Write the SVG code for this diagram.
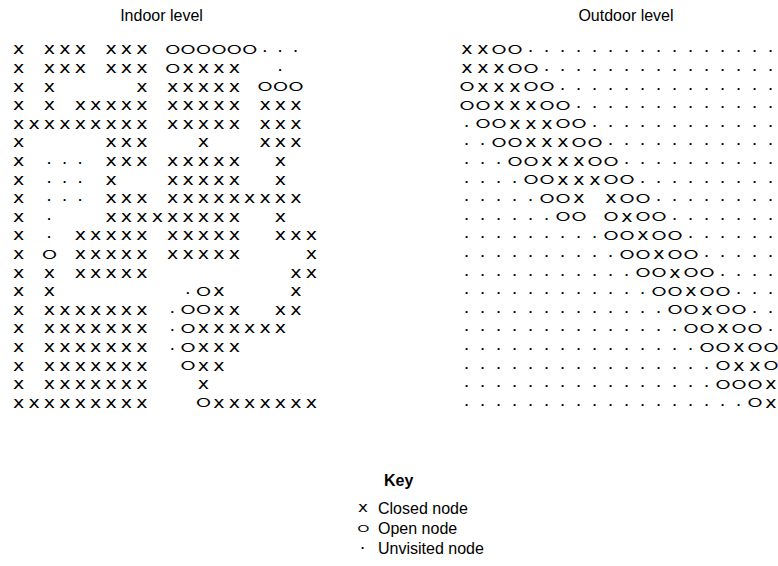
<svg xmlns="http://www.w3.org/2000/svg" width="778" height="566" viewBox="0 0 778 566">
<style>
text{font-family:"Liberation Sans",Arial,sans-serif;fill:#000}
.t{font-size:16px}
.k{font-size:16px;font-weight:bold}
.x{font-family:"DejaVu Sans",sans-serif;font-size:15.9px;text-anchor:middle}
.d{font-size:13px;font-weight:bold;text-anchor:middle}
.o{font-family:Inter,"Liberation Sans",sans-serif;font-weight:300;font-size:15px;text-anchor:middle}
</style>
<rect width="778" height="566" fill="#fff"/>
<text class="t" x="161.5" y="20.5" text-anchor="middle">Indoor level</text>
<text class="t" x="626" y="20.5" text-anchor="middle">Outdoor level</text>
<g id="indoor">
<text class="x" transform="scale(1.2 1)" y="54.35" x="15.58 41.25 54.08 66.92 92.58 105.42 118.25">xxxxxxx</text>
<text class="o" y="54.1" transform="scale(1.8 1)" x="95.94 104.5 113.06 121.61 130.17 138.72">oooooo</text>
<text class="d" y="55.3" x="265.1 280.5 295.9">···</text>
<text class="x" transform="scale(1.2 1)" y="72.95" x="15.58 41.25 54.08 66.92 92.58 105.42 118.25">xxxxxxx</text>
<text class="o" y="72.7" transform="scale(1.8 1)" x="95.94">o</text>
<text class="x" transform="scale(1.2 1)" y="72.95" x="156.75 169.58 182.42 195.25">xxxx</text>
<text class="d" y="73.9" x="280.5">·</text>
<text class="x" transform="scale(1.2 1)" y="91.55" x="15.58 41.25 118.25 143.92 156.75 169.58 182.42 195.25">xxxxxxxx</text>
<text class="o" y="91.3" transform="scale(1.8 1)" x="147.28 155.83 164.39">ooo</text>
<text class="x" transform="scale(1.2 1)" y="110.15" x="15.58 41.25 66.92 79.75 92.58 105.42 118.25 143.92 156.75 169.58 182.42 195.25 220.92 233.75 246.58">xxxxxxxxxxxxxxx</text>
<text class="x" transform="scale(1.2 1)" y="128.75" x="15.58 28.42 41.25 54.08 66.92 79.75 92.58 105.42 118.25 143.92 156.75 169.58 182.42 195.25 220.92 233.75 246.58">xxxxxxxxxxxxxxxxx</text>
<text class="x" transform="scale(1.2 1)" y="147.35" x="15.58 92.58 105.42 118.25 169.58 220.92 233.75 246.58">xxxxxxxx</text>
<text class="x" transform="scale(1.2 1)" y="165.95" x="15.58">x</text>
<text class="d" y="166.9" x="49.5 64.9 80.3">···</text>
<text class="x" transform="scale(1.2 1)" y="165.95" x="92.58 105.42 118.25 143.92 156.75 169.58 182.42 195.25 233.75">xxxxxxxxx</text>
<text class="x" transform="scale(1.2 1)" y="184.55" x="15.58">x</text>
<text class="d" y="185.5" x="49.5 64.9 80.3">···</text>
<text class="x" transform="scale(1.2 1)" y="184.55" x="92.58 143.92 156.75 169.58 182.42 195.25 233.75">xxxxxxx</text>
<text class="x" transform="scale(1.2 1)" y="203.15" x="15.58">x</text>
<text class="d" y="204.1" x="49.5 64.9 80.3">···</text>
<text class="x" transform="scale(1.2 1)" y="203.15" x="92.58 105.42 118.25 143.92 156.75 169.58 182.42 195.25 208.08 220.92 233.75 246.58">xxxxxxxxxxxx</text>
<text class="x" transform="scale(1.2 1)" y="221.75" x="15.58">x</text>
<text class="d" y="222.7" x="49.5">·</text>
<text class="x" transform="scale(1.2 1)" y="221.75" x="92.58 105.42 118.25 131.08 143.92 156.75 169.58 182.42 195.25 233.75">xxxxxxxxxx</text>
<text class="x" transform="scale(1.2 1)" y="240.35" x="15.58">x</text>
<text class="d" y="241.3" x="49.5">·</text>
<text class="x" transform="scale(1.2 1)" y="240.35" x="66.92 79.75 92.58 105.42 118.25 143.92 156.75 169.58 182.42 195.25 233.75 246.58 259.42">xxxxxxxxxxxxx</text>
<text class="x" transform="scale(1.2 1)" y="258.95" x="15.58">x</text>
<text class="o" y="258.7" transform="scale(1.8 1)" x="27.5">o</text>
<text class="x" transform="scale(1.2 1)" y="258.95" x="66.92 79.75 92.58 105.42 118.25 143.92 156.75 169.58 182.42 195.25 259.42">xxxxxxxxxxx</text>
<text class="x" transform="scale(1.2 1)" y="277.55" x="15.58 41.25 66.92 79.75 92.58 105.42 118.25 246.58 259.42">xxxxxxxxx</text>
<text class="x" transform="scale(1.2 1)" y="296.15" x="15.58 41.25">xx</text>
<text class="d" y="297.1" x="188.1">·</text>
<text class="o" y="295.9" transform="scale(1.8 1)" x="113.06">o</text>
<text class="x" transform="scale(1.2 1)" y="296.15" x="182.42 246.58">xx</text>
<text class="x" transform="scale(1.2 1)" y="314.75" x="15.58 41.25 54.08 66.92 79.75 92.58 105.42 118.25">xxxxxxxx</text>
<text class="d" y="315.7" x="172.7">·</text>
<text class="o" y="314.5" transform="scale(1.8 1)" x="104.5 113.06">oo</text>
<text class="x" transform="scale(1.2 1)" y="314.75" x="182.42 195.25 233.75 246.58">xxxx</text>
<text class="x" transform="scale(1.2 1)" y="333.35" x="15.58 41.25 54.08 66.92 79.75 92.58 105.42 118.25">xxxxxxxx</text>
<text class="d" y="334.3" x="172.7">·</text>
<text class="o" y="333.1" transform="scale(1.8 1)" x="104.5">o</text>
<text class="x" transform="scale(1.2 1)" y="333.35" x="169.58 182.42 195.25 208.08 220.92 233.75">xxxxxx</text>
<text class="x" transform="scale(1.2 1)" y="351.95" x="15.58 41.25 54.08 66.92 79.75 92.58 105.42 118.25">xxxxxxxx</text>
<text class="d" y="352.9" x="172.7">·</text>
<text class="o" y="351.7" transform="scale(1.8 1)" x="104.5">o</text>
<text class="x" transform="scale(1.2 1)" y="351.95" x="169.58 182.42 195.25">xxx</text>
<text class="x" transform="scale(1.2 1)" y="370.55" x="15.58 41.25 54.08 66.92 79.75 92.58 105.42 118.25">xxxxxxxx</text>
<text class="o" y="370.3" transform="scale(1.8 1)" x="104.5">o</text>
<text class="x" transform="scale(1.2 1)" y="370.55" x="169.58 182.42">xx</text>
<text class="x" transform="scale(1.2 1)" y="389.15" x="15.58 41.25 54.08 66.92 79.75 92.58 105.42 118.25 169.58">xxxxxxxxx</text>
<text class="x" transform="scale(1.2 1)" y="407.75" x="15.58 28.42 41.25 54.08 66.92 79.75 92.58 105.42 118.25">xxxxxxxxx</text>
<text class="o" y="407.5" transform="scale(1.8 1)" x="113.06">o</text>
<text class="x" transform="scale(1.2 1)" y="407.75" x="182.42 195.25 208.08 220.92 233.75 246.58 259.42">xxxxxxx</text>
</g>
<g id="outdoor">
<text class="x" transform="scale(1.2 1)" y="54.35" x="389.17 402.5">xx</text>
<text class="o" y="54.1" transform="scale(1.8 1)" x="277.22 286.11">oo</text>
<text class="d" y="55.3" x="531 547 563 579 595 611 627 643 659 675 691 707 723 739 755 771">················</text>
<text class="x" transform="scale(1.2 1)" y="72.95" x="389.17 402.5 415.83">xxx</text>
<text class="o" y="72.7" transform="scale(1.8 1)" x="286.11 295">oo</text>
<text class="d" y="73.9" x="547 563 579 595 611 627 643 659 675 691 707 723 739 755 771">···············</text>
<text class="o" y="91.3" transform="scale(1.8 1)" x="259.44">o</text>
<text class="x" transform="scale(1.2 1)" y="91.55" x="402.5 415.83 429.17">xxx</text>
<text class="o" y="91.3" transform="scale(1.8 1)" x="295 303.89">oo</text>
<text class="d" y="92.5" x="563 579 595 611 627 643 659 675 691 707 723 739 755 771">··············</text>
<text class="o" y="109.9" transform="scale(1.8 1)" x="259.44 268.33">oo</text>
<text class="x" transform="scale(1.2 1)" y="110.15" x="415.83 429.17 442.5">xxx</text>
<text class="o" y="109.9" transform="scale(1.8 1)" x="303.89 312.78">oo</text>
<text class="d" y="111.1" x="579 595 611 627 643 659 675 691 707 723 739 755 771">·············</text>
<text class="d" y="129.7" x="467">·</text>
<text class="o" y="128.5" transform="scale(1.8 1)" x="268.33 277.22">oo</text>
<text class="x" transform="scale(1.2 1)" y="128.75" x="429.17 442.5 455.83">xxx</text>
<text class="o" y="128.5" transform="scale(1.8 1)" x="312.78 321.67">oo</text>
<text class="d" y="129.7" x="595 611 627 643 659 675 691 707 723 739 755 771">············</text>
<text class="d" y="148.3" x="467 483">··</text>
<text class="o" y="147.1" transform="scale(1.8 1)" x="277.22 286.11">oo</text>
<text class="x" transform="scale(1.2 1)" y="147.35" x="442.5 455.83 469.17">xxx</text>
<text class="o" y="147.1" transform="scale(1.8 1)" x="321.67 330.56">oo</text>
<text class="d" y="148.3" x="611 627 643 659 675 691 707 723 739 755 771">···········</text>
<text class="d" y="166.9" x="467 483 499">···</text>
<text class="o" y="165.7" transform="scale(1.8 1)" x="286.11 295">oo</text>
<text class="x" transform="scale(1.2 1)" y="165.95" x="455.83 469.17 482.5">xxx</text>
<text class="o" y="165.7" transform="scale(1.8 1)" x="330.56 339.44">oo</text>
<text class="d" y="166.9" x="627 643 659 675 691 707 723 739 755 771">··········</text>
<text class="d" y="185.5" x="467 483 499 515">····</text>
<text class="o" y="184.3" transform="scale(1.8 1)" x="295 303.89">oo</text>
<text class="x" transform="scale(1.2 1)" y="184.55" x="469.17 482.5 495.83">xxx</text>
<text class="o" y="184.3" transform="scale(1.8 1)" x="339.44 348.33">oo</text>
<text class="d" y="185.5" x="643 659 675 691 707 723 739 755 771">·········</text>
<text class="d" y="204.1" x="467 483 499 515 531">·····</text>
<text class="o" y="202.9" transform="scale(1.8 1)" x="303.89 312.78">oo</text>
<text class="x" transform="scale(1.2 1)" y="203.15" x="482.5 509.17">xx</text>
<text class="o" y="202.9" transform="scale(1.8 1)" x="348.33 357.22">oo</text>
<text class="d" y="204.1" x="659 675 691 707 723 739 755 771">········</text>
<text class="d" y="222.7" x="467 483 499 515 531 547">······</text>
<text class="o" y="221.5" transform="scale(1.8 1)" x="312.78 321.67 339.44">ooo</text>
<text class="x" transform="scale(1.2 1)" y="221.75" x="522.5">x</text>
<text class="o" y="221.5" transform="scale(1.8 1)" x="357.22 366.11">oo</text>
<text class="d" y="222.7" x="675 691 707 723 739 755 771">·······</text>
<text class="d" y="241.3" x="467 483 499 515 531 547 563 579 595">·········</text>
<text class="o" y="240.1" transform="scale(1.8 1)" x="339.44 348.33">oo</text>
<text class="x" transform="scale(1.2 1)" y="240.35" x="535.83">x</text>
<text class="o" y="240.1" transform="scale(1.8 1)" x="366.11 375">oo</text>
<text class="d" y="241.3" x="691 707 723 739 755 771">······</text>
<text class="d" y="259.9" x="467 483 499 515 531 547 563 579 595 611">··········</text>
<text class="o" y="258.7" transform="scale(1.8 1)" x="348.33 357.22">oo</text>
<text class="x" transform="scale(1.2 1)" y="258.95" x="549.17">x</text>
<text class="o" y="258.7" transform="scale(1.8 1)" x="375 383.89">oo</text>
<text class="d" y="259.9" x="707 723 739 755 771">·····</text>
<text class="d" y="278.5" x="467 483 499 515 531 547 563 579 595 611 627">···········</text>
<text class="o" y="277.3" transform="scale(1.8 1)" x="357.22 366.11">oo</text>
<text class="x" transform="scale(1.2 1)" y="277.55" x="562.5">x</text>
<text class="o" y="277.3" transform="scale(1.8 1)" x="383.89 392.78">oo</text>
<text class="d" y="278.5" x="723 739 755 771">····</text>
<text class="d" y="297.1" x="467 483 499 515 531 547 563 579 595 611 627 643">············</text>
<text class="o" y="295.9" transform="scale(1.8 1)" x="366.11 375">oo</text>
<text class="x" transform="scale(1.2 1)" y="296.15" x="575.83">x</text>
<text class="o" y="295.9" transform="scale(1.8 1)" x="392.78 401.67">oo</text>
<text class="d" y="297.1" x="739 755 771">···</text>
<text class="d" y="315.7" x="467 483 499 515 531 547 563 579 595 611 627 643 659">·············</text>
<text class="o" y="314.5" transform="scale(1.8 1)" x="375 383.89">oo</text>
<text class="x" transform="scale(1.2 1)" y="314.75" x="589.17">x</text>
<text class="o" y="314.5" transform="scale(1.8 1)" x="401.67 410.56">oo</text>
<text class="d" y="315.7" x="755 771">··</text>
<text class="d" y="334.3" x="467 483 499 515 531 547 563 579 595 611 627 643 659 675">··············</text>
<text class="o" y="333.1" transform="scale(1.8 1)" x="383.89 392.78">oo</text>
<text class="x" transform="scale(1.2 1)" y="333.35" x="602.5">x</text>
<text class="o" y="333.1" transform="scale(1.8 1)" x="410.56 419.44">oo</text>
<text class="d" y="334.3" x="771">·</text>
<text class="d" y="352.9" x="467 483 499 515 531 547 563 579 595 611 627 643 659 675 691">···············</text>
<text class="o" y="351.7" transform="scale(1.8 1)" x="392.78 401.67">oo</text>
<text class="x" transform="scale(1.2 1)" y="351.95" x="615.83">x</text>
<text class="o" y="351.7" transform="scale(1.8 1)" x="419.44 428.33">oo</text>
<text class="d" y="371.5" x="467 483 499 515 531 547 563 579 595 611 627 643 659 675 691 707">················</text>
<text class="o" y="370.3" transform="scale(1.8 1)" x="401.67">o</text>
<text class="x" transform="scale(1.2 1)" y="370.55" x="615.83 629.17">xx</text>
<text class="o" y="370.3" transform="scale(1.8 1)" x="428.33">o</text>
<text class="d" y="390.1" x="467 483 499 515 531 547 563 579 595 611 627 643 659 675 691 707">················</text>
<text class="o" y="388.9" transform="scale(1.8 1)" x="401.67 410.56 419.44">ooo</text>
<text class="x" transform="scale(1.2 1)" y="389.15" x="642.5">x</text>
<text class="d" y="408.7" x="467 483 499 515 531 547 563 579 595 611 627 643 659 675 691 707 723 739">··················</text>
<text class="o" y="407.5" transform="scale(1.8 1)" x="419.44">o</text>
<text class="x" transform="scale(1.2 1)" y="407.75" x="642.5">x</text>
</g>
<g id="key">
<text class="k" x="384" y="486">Key</text>
<text class="x" style="font-size:14px" transform="scale(1.2 1)" x="302.5" y="512.5">x</text>
<text class="t" x="378" y="514">Closed node</text>
<text class="o" style="font-size:12px" transform="scale(1.8 1)" x="201.94" y="532">o</text>
<text class="t" x="378" y="534">Open node</text>
<text class="d" x="363" y="552">·</text>
<text class="t" x="378" y="554">Unvisited node</text>
</g>
</svg>
